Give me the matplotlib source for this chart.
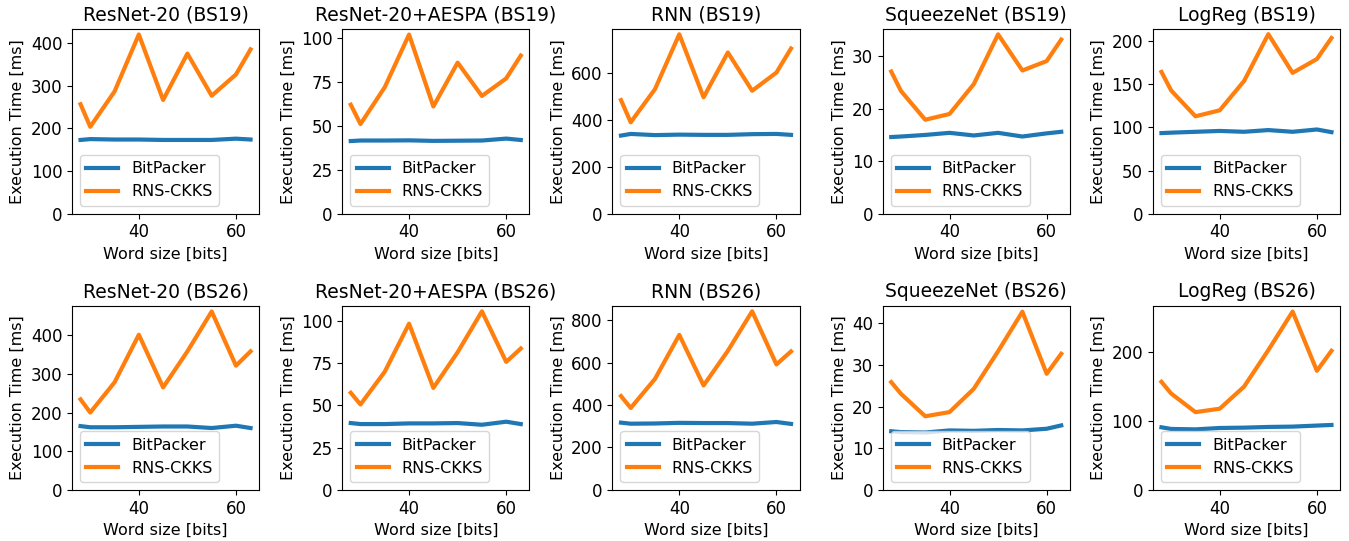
import matplotlib
matplotlib.use("Agg")
import matplotlib.pyplot as plt

# word sizes [bits]
word_sizes = [28, 30, 35, 40, 45, 50, 55, 60, 63]
xtick_values = [40, 60]

titles = [
    "ResNet-20 (BS19)", "ResNet-20+AESPA (BS19)", "RNN (BS19)", "SqueezeNet (BS19)", "LogReg (BS19)",
    "ResNet-20 (BS26)", "ResNet-20+AESPA (BS26)", "RNN (BS26)", "SqueezeNet (BS26)", "LogReg (BS26)",
]

# BitPacker execution times [ms]
bitpacker = [
    [173, 175, 174, 174, 173, 173, 173, 176, 174],
    [41.3, 41.6, 41.6, 41.7, 41.4, 41.5, 41.6, 42.7, 41.9],
    [334, 341, 336, 338, 337, 337, 340, 341, 337],
    [14.6, 14.7, 15.0, 15.4, 14.9, 15.4, 14.7, 15.3, 15.6],
    [93.5, 94.0, 95.0, 96.0, 95.0, 97.0, 95.0, 97.7, 94.6],
    [165, 162, 162, 163, 164, 164, 160, 166, 160],
    [39.6, 39.0, 39.0, 39.4, 39.4, 39.6, 38.6, 40.4, 39.0],
    [317, 312, 313, 316, 315, 315, 312, 320, 311],
    [14.1, 13.9, 13.8, 14.3, 14.2, 14.4, 14.3, 14.7, 15.5],
    [91.0, 88.6, 88.0, 90.0, 90.5, 91.5, 92.0, 93.5, 94.4],
]

# RNS-CKKS execution times [ms]
rns_ckks = [
    [257, 204, 287, 421, 267, 376, 277, 327, 386],
    [62, 51, 72, 102, 61, 86, 67, 77, 90],
    [486, 391, 533, 768, 498, 690, 526, 604, 707],
    [27.1, 23.4, 17.9, 19.0, 24.7, 34.2, 27.3, 29.1, 33.2],
    [164.6, 143, 113, 120, 154, 208.5, 163.5, 179.6, 204],
    [234, 200, 278, 401, 265, 358, 461, 321, 358],
    [57.5, 50.6, 70, 98.4, 60.4, 81.5, 105.7, 75.8, 83.7],
    [442, 386, 523, 730, 492, 655, 841, 591, 652],
    [25.9, 23.1, 17.7, 18.7, 24.3, 33.3, 42.8, 27.9, 32.7],
    [157, 140, 113, 118, 150, 203, 259, 173, 202],
]

plt.rcParams['font.size'] = 11.5
plt.rcParams['xtick.labelsize'] = 12
plt.rcParams['ytick.labelsize'] = 12
plt.rcParams['axes.titlesize'] = 13.5
plt.rcParams['legend.fontsize'] = 11.5

fig, axes = plt.subplots(2, 5, figsize=(13.49, 5.41), dpi=100)

for i, ax in enumerate(axes.flat):
    ax.plot(word_sizes, bitpacker[i], linewidth=3, label="BitPacker")
    ax.plot(word_sizes, rns_ckks[i], linewidth=3, label="RNS-CKKS")
    ax.set_title(titles[i])
    ax.set_xlabel("Word size [bits]")
    ax.set_ylabel("Execution Time [ms]")
    ax.set_xticks(xtick_values)
    ax.set_ylim(bottom=0)
    ax.legend(loc="lower left")

# match the spacing of the original layout
plt.subplots_adjust(left=0.0534, right=0.9933, bottom=0.0943, top=0.946,
                    wspace=0.445, hspace=0.50)
plt.savefig("out.png", dpi=100)
